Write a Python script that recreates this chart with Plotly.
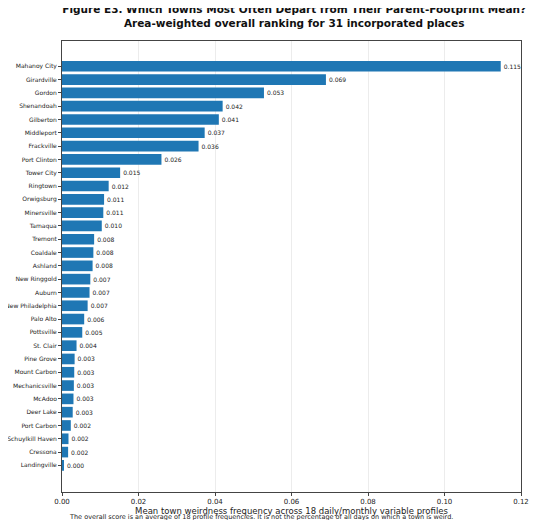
import plotly.graph_objects as go

towns = ["Mahanoy City","Girardville","Gordon","Shenandoah","Gilberton","Middleport","Frackville",
         "Port Clinton","Tower City","Ringtown","Orwigsburg","Minersville","Tamaqua","Tremont",
         "Coaldale","Ashland","New Ringgold","Auburn","New Philadelphia","Palo Alto","Pottsville",
         "St. Clair","Pine Grove","Mount Carbon","Mechanicsville","McAdoo","Deer Lake","Port Carbon",
         "Schuylkill Haven","Cressona","Landingville"]
scores = [0.1147,0.0690,0.0528,0.0420,0.0410,0.0373,0.0357,0.0260,0.0152,0.0122,0.0110,0.0108,
          0.0104,0.0084,0.0082,0.0080,0.0074,0.0072,0.0067,0.0058,0.0053,0.0038,0.0033,0.0032,
          0.0031,0.0030,0.0028,0.0023,0.0017,0.0016,0.0004]
labels = [f"{v:.3f}" for v in scores]

fig = go.Figure(go.Bar(
    x=scores, y=list(range(len(towns))), orientation="h", width=0.8,
    marker=dict(color="#1f77b4", line=dict(width=0)),
    text=labels, textposition="outside", textfont=dict(size=6, color="#222"),
    cliponaxis=False))

fig.update_layout(
    width=540, height=520, paper_bgcolor="white", plot_bgcolor="white",
    margin=dict(l=54, r=27, t=33, b=36, autoexpand=False),
    font=dict(family="DejaVu Sans", color="#222"),
    title=dict(text="<b>Figure E3. Which Towns Most Often Depart from Their Parent-Footprint Mean?<br>Area-weighted overall ranking for 31 incorporated places</b>",
               x=0.53, xanchor="center", y=0.99, yanchor="top", font=dict(size=10.5, color="#111")),
    showlegend=False, bargap=0.2, uniformtext=dict(minsize=5, mode="show"))
fig.update_xaxes(range=[0, 0.12], dtick=0.02, tickformat=".2f", showgrid=True, gridcolor="#ececec",
                 showline=True, linecolor="#444", mirror=True, ticks="outside", ticklen=3,
                 tickfont=dict(size=7), zeroline=False, automargin=False,
                 title=dict(text="Mean town weirdness frequency across 18 daily/monthly variable profiles",
                            font=dict(size=8.5), standoff=2))
fig.update_yaxes(range=[32.0, -1.9], tickvals=list(range(len(towns))), ticktext=towns,
                 showgrid=False, showline=True, linecolor="#444", mirror=True, ticks="outside",
                 ticklen=3, tickfont=dict(size=6), automargin=False)
fig.add_annotation(text="The overall score is an average of 18 profile frequencies. It is not the percentage of all days on which a town is weird.",
                   xref="paper", yref="paper", x=0.01, y=-0.055, xanchor="left", yanchor="middle",
                   showarrow=False, font=dict(size=6.5, color="#222"))
fig.write_html("out.html")
